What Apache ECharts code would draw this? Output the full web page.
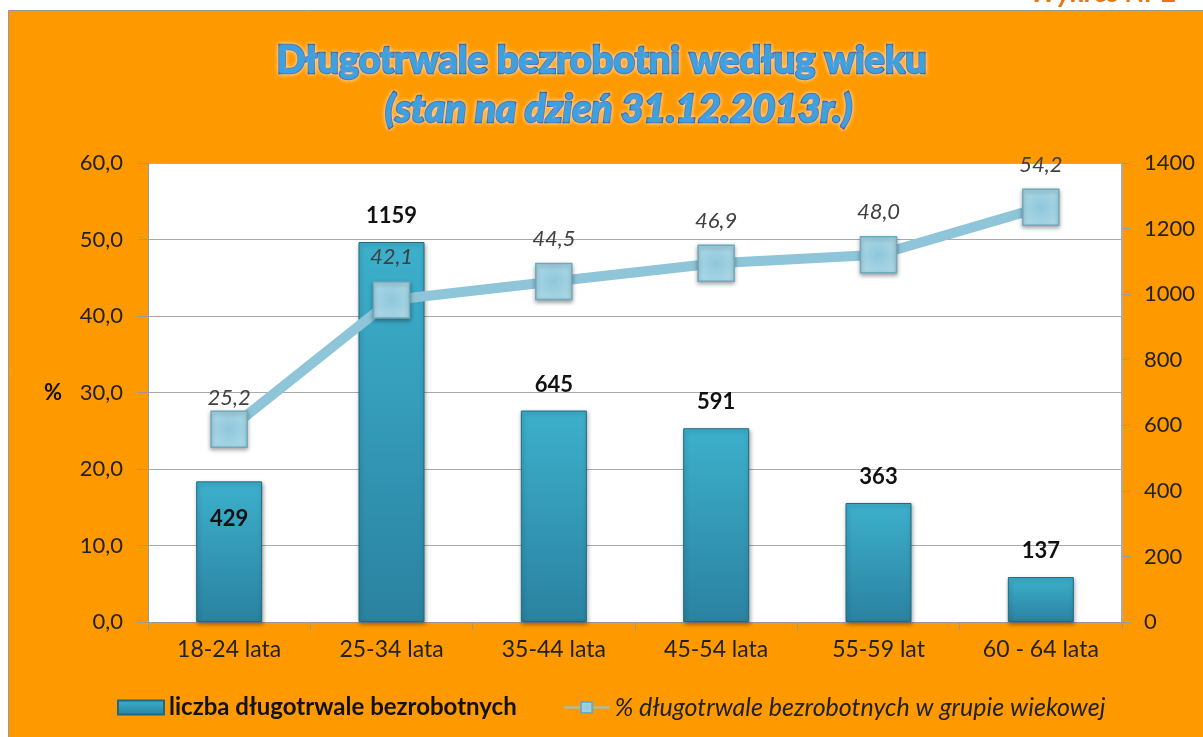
<!DOCTYPE html>
<html>
<head>
    <meta charset="UTF-8"/>
    <title>Długotrwale bezrobotni według wieku</title>
    <style>
        html, body { margin: 0; padding: 0; background: #fff; }
        #chart { width: 1203px; height: 737px; }
    </style>
</head>
<body>
<div id="chart"></div>
<script src="https://cdn.jsdelivr.net/npm/echarts@6/dist/echarts.min.js"></script>
<script>
    // dane
    const categories = ["18-24 lata", "25-34 lata", "35-44 lata", "45-54 lata", "55-59 lat", "60 - 64 lata"];
    const liczba = [429, 1159, 645, 591, 363, 137];
    const procent = [25.2, 42.1, 44.5, 46.9, 48.0, 54.2];
    const leftTicks = {min: 0, max: 60, interval: 10};
    const rightTicks = {min: 0, max: 1400, interval: 200};

    const nameBar = "liczba długotrwale bezrobotnych";
    const nameLine = "% długotrwale bezrobotnych w grupie wiekowej";
    const font = "Lato";

    const chart = echarts.init(document.getElementById("chart"));

    const barData = liczba.map(function (v, i) {
        const d = {value: v};
        if (i === 0) {
            d.label = {position: "insideTop", distance: 27};
        }
        return d;
    });
    const lineData = procent.map(function (v, i) {
        const d = {value: v};
        if (i === 0) {
            d.label = {distance: 2};
        }
        return d;
    });

    const titleStyle = {
        fontFamily: font,
        fontWeight: "bold",
        fontSize: 38,
        color: "#3aa2e0",
        textBorderColor: "#1b4f9c",
        textBorderWidth: 2.5,
        textShadowColor: "rgba(255,255,255,0.7)",
        textShadowBlur: 4
    };

    const option = {
        backgroundColor: "#fff",
        animation: false,
        graphic: [{
            type: "rect",
            shape: {x: 8.5, y: 10.5, width: 1200, height: 730},
            style: {fill: "#ff9900", stroke: "#999", lineWidth: 1},
            z: -10
        }, {
            type: "text",
            left: 1030,
            top: -21,
            style: {
                text: "Wykres Nr 2",
                font: "italic bold 28px Lato",
                fill: "#e87511"
            },
            z: -9
        }],
        title: [{
            text: "Długotrwale bezrobotni według wieku",
            left: "center",
            top: 37,
            textStyle: titleStyle
        }, {
            text: "(stan na dzień 31.12.2013r.)",
            left: 380,
            top: 85,
            textStyle: Object.assign({}, titleStyle, {fontStyle: "italic", fontSize: 39})
        }],
        legend: {
            bottom: 12,
            left: 112,
            itemGap: 46,
            itemWidth: 46,
            itemHeight: 14,
            data: [{
                name: nameBar,
                icon: "rect",
                textStyle: {fontFamily: font, fontWeight: "bold", fontSize: 24, color: "#111"}
            }, {
                name: nameLine,
                textStyle: {fontFamily: font, fontStyle: "italic", fontSize: 25, color: "#222"}
            }]
        },
        grid: {
            left: 148,
            right: 81,
            top: 163,
            bottom: 115,
            show: true,
            backgroundColor: "#fff",
            borderWidth: 0
        },
        xAxis: {
            type: "category",
            data: categories,
            axisLine: {lineStyle: {color: "#999"}},
            axisTick: {show: true, length: 8, lineStyle: {color: "#999"}},
            axisLabel: {fontFamily: font, fontSize: 23, color: "#222", margin: 16}
        },
        yAxis: [{
            type: "value",
            min: leftTicks.min,
            max: leftTicks.max,
            interval: leftTicks.interval,
            name: "%",
            nameLocation: "middle",
            nameRotate: 0,
            nameGap: 86,
            nameTextStyle: {fontFamily: font, fontWeight: "bold", fontSize: 22, color: "#111"},
            axisLine: {show: true, lineStyle: {color: "#999"}},
            axisTick: {show: true, length: 11, lineStyle: {color: "#999"}},
            axisLabel: {
                fontFamily: font, fontSize: 22, color: "#222", margin: 25,
                formatter: function (v) { return v.toFixed(1).replace(".", ","); }
            },
            splitLine: {lineStyle: {color: "#aaa"}}
        }, {
            type: "value",
            min: rightTicks.min,
            max: rightTicks.max,
            interval: rightTicks.interval,
            axisLine: {show: true, lineStyle: {color: "#aaa", width: 2}},
            axisTick: {show: true, length: 8, inside: false, lineStyle: {color: "#999"}},
            axisLabel: {
                fontFamily: font, fontSize: 22, color: "#222", margin: 22,
                formatter: function (v) { return String(v); }
            },
            splitLine: {show: false}
        }],
        series: [{
            name: nameBar,
            type: "bar",
            yAxisIndex: 1,
            barWidth: 66,
            data: barData,
            itemStyle: {
                color: new echarts.graphic.LinearGradient(0, 0, 0, 1, [
                    {offset: 0, color: "#3db0cc"},
                    {offset: 1, color: "#2a82a0"}
                ]),
                borderColor: "#1f6a80",
                borderWidth: 1,
                shadowColor: "rgba(0,0,0,0.35)",
                shadowBlur: 4,
                shadowOffsetX: 1,
                shadowOffsetY: 2
            },
            label: {
                show: true,
                position: "top",
                distance: 15,
                fontFamily: font,
                fontWeight: "bold",
                fontSize: 22,
                color: "#111"
            },
            z: 2
        }, {
            name: nameLine,
            type: "line",
            yAxisIndex: 0,
            data: lineData,
            symbol: "rect",
            symbolSize: 36,
            lineStyle: {color: "#8fc5d8", width: 10},
            itemStyle: {
                color: new echarts.graphic.RadialGradient(0.5, 0.5, 0.7, [
                    {offset: 0, color: "#8ec7da"},
                    {offset: 1, color: "#b2dcea"}
                ]),
                borderColor: "#6fa9bd",
                borderWidth: 1.5,
                shadowColor: "rgba(0,0,0,0.35)",
                shadowBlur: 4,
                shadowOffsetY: 2
            },
            label: {
                show: true,
                position: "top",
                distance: 13,
                fontFamily: font,
                fontStyle: "italic",
                fontSize: 22,
                color: "#404040",
                formatter: function (p) { return p.value.toFixed(1).replace(".", ","); }
            },
            z: 3
        }]
    };
    chart.setOption(option);
</script>
</body>
</html>
